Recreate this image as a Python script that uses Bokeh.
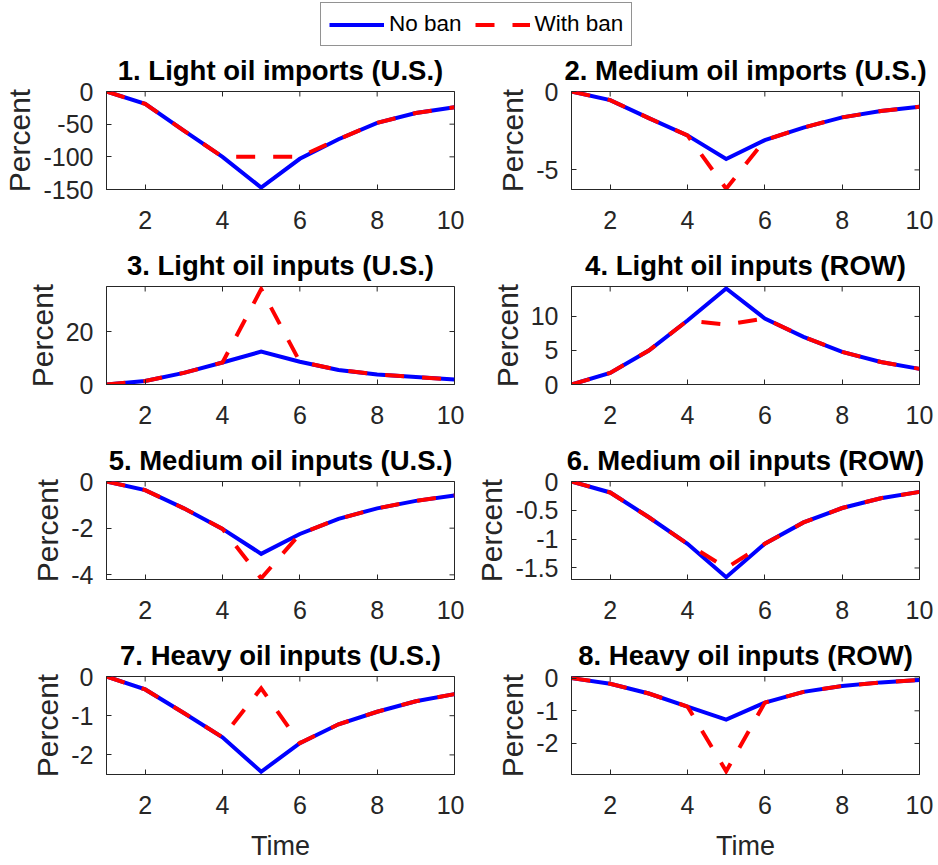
import math
from bokeh.plotting import figure
from bokeh.layouts import column, row
from bokeh.models import (Range1d, FixedTicker, PrintfTickFormatter,
                          Legend, LegendItem)
from bokeh.embed import file_html
from bokeh.resources import INLINE

# ---------------- data ----------------
time = [1, 2, 3, 4, 5, 6, 7, 8, 9, 10]
x_ticks = [2, 4, 6, 8, 10]

titles = [
    "1. Light oil imports (U.S.)",
    "2. Medium oil imports (U.S.)",
    "3. Light oil inputs (U.S.)",
    "4. Light oil inputs (ROW)",
    "5. Medium oil inputs (U.S.)",
    "6. Medium oil inputs (ROW)",
    "7. Heavy oil inputs (U.S.)",
    "8. Heavy oil inputs (ROW)",
]

no_ban_1 = [0, -19, -60, -100, -147, -103, -73, -48, -33, -24]
with_ban_1 = [0, -19, -60, -100, -100, -100, -73, -48, -33, -24]
no_ban_2 = [0, -0.55, -1.7, -2.8, -4.3, -3.1, -2.3, -1.65, -1.25, -0.97]
with_ban_2 = [0, -0.55, -1.7, -2.8, -6.2, -3.1, -2.3, -1.65, -1.25, -0.97]
no_ban_3 = [0, 1.3, 4.4, 8.3, 12.4, 8.6, 5.5, 3.8, 2.8, 1.9]
with_ban_3 = [0, 1.3, 4.4, 8.3, 36.0, 8.6, 5.5, 3.8, 2.8, 1.9]
no_ban_4 = [0, 1.7, 5.0, 9.4, 14.1, 9.7, 7.0, 4.8, 3.3, 2.3]
with_ban_4 = [0, 1.7, 5.0, 9.4, 8.8, 9.7, 7.0, 4.8, 3.3, 2.3]
no_ban_5 = [0, -0.37, -1.15, -2.03, -3.1, -2.25, -1.6, -1.15, -0.83, -0.6]
with_ban_5 = [0, -0.37, -1.15, -2.03, -4.15, -2.25, -1.6, -1.15, -0.83, -0.6]
no_ban_6 = [0, -0.19, -0.62, -1.08, -1.66, -1.08, -0.71, -0.46, -0.29, -0.18]
with_ban_6 = [0, -0.19, -0.62, -1.08, -1.5, -1.08, -0.71, -0.46, -0.29, -0.18]
no_ban_7 = [0, -0.33, -0.93, -1.55, -2.43, -1.7, -1.22, -0.9, -0.63, -0.45]
with_ban_7 = [0, -0.33, -0.93, -1.55, -0.3, -1.7, -1.22, -0.9, -0.63, -0.45]
no_ban_8 = [0, -0.17, -0.47, -0.87, -1.27, -0.75, -0.42, -0.24, -0.13, -0.06]
with_ban_8 = [0, -0.17, -0.47, -0.87, -2.85, -0.75, -0.42, -0.24, -0.13, -0.06]

y_limits = [(-150, 0), (-6.25, 0), (0, 37), (0, 14.4),
            (-4.2, 0), (-1.7, 0), (-2.5, 0), (-2.95, 0.05)]
y_ticks = [[-150, -100, -50, 0], [-5, 0], [0, 20], [0, 5, 10],
           [-4, -2, 0], [-1.5, -1, -0.5, 0], [-2, -1, 0], [-2, -1, 0]]

no_ban = [no_ban_1, no_ban_2, no_ban_3, no_ban_4, no_ban_5, no_ban_6, no_ban_7, no_ban_8]
with_ban = [with_ban_1, with_ban_2, with_ban_3, with_ban_4, with_ban_5, with_ban_6, with_ban_7, with_ban_8]

legend_labels = ["No ban", "With ban"]

# ---------------- style ----------------
FONT = "Liberation Sans"
AX = "#262626"
BLUE = "#0000FF"
RED = "#FF0000"
DASH = "19 18"
LW = 4


def style_axis(ax):
    ax.axis_line_color = AX
    ax.axis_line_width = 1
    ax.major_tick_line_color = AX
    ax.major_tick_in = 5
    ax.major_tick_out = 0
    ax.minor_tick_line_color = None
    ax.major_label_text_font = FONT
    ax.major_label_text_color = AX
    ax.axis_label_text_font = FONT
    ax.axis_label_text_color = AX
    ax.axis_label_text_font_style = "normal"


def make_panel(i, left, bottom_row):
    mb_left = 106 if left else 107
    mb_right = 10 if left else 18
    fw = 348
    mb_top = 44
    mb_bottom = 90 if bottom_row else 53
    fh = 98
    lo, hi = y_limits[i]
    p = figure(width=mb_left + fw + mb_right, height=mb_top + fh + mb_bottom,
               output_backend="svg", toolbar_location=None,
               x_range=Range1d(1, 10), y_range=Range1d(lo, hi),
               min_border_left=mb_left, min_border_right=mb_right,
               min_border_top=mb_top, min_border_bottom=mb_bottom,
               title=titles[i])
    p.title.text_font = FONT
    p.title.text_font_size = "27.5px"
    p.title.text_font_style = "bold"
    p.title.text_color = "black"
    p.title.align = "center"
    p.title.standoff = 11
    p.grid.visible = False
    p.outline_line_color = AX
    p.outline_line_width = 1
    p.background_fill_color = "white"
    p.border_fill_color = "white"

    fmt = PrintfTickFormatter(format="%g")

    xa = p.xaxis[0]
    xa.ticker = FixedTicker(ticks=x_ticks)
    xa.formatter = fmt
    style_axis(xa)
    xa.major_label_text_font_size = "25px"
    xa.major_label_standoff = 21
    if bottom_row:
        xa.axis_label = "Time"
        xa.axis_label_text_font_size = "27px"
        xa.axis_label_standoff = 14

    ya = p.yaxis[0]
    ya.ticker = FixedTicker(ticks=y_ticks[i])
    ya.formatter = fmt
    style_axis(ya)
    ya.major_label_text_font_size = "25px"
    ya.major_label_standoff = 13
    ya.axis_label = "Percent"
    ya.axis_label_text_font_size = "30px"
    ya.axis_label_standoff = 4

    # mirrored inward tick marks on the top and right edges (clipped to frame)
    p.scatter(x=x_ticks, y=[hi] * len(x_ticks), marker="dash", size=10,
              angle=math.pi / 2, line_color=AX, line_width=1)
    p.scatter(x=[10] * len(y_ticks[i]), y=y_ticks[i], marker="dash", size=10,
              line_color=AX, line_width=1)

    p.line(time, no_ban[i], line_color=BLUE, line_width=LW, line_join="miter")
    p.line(time, with_ban[i], line_color=RED, line_width=LW, line_dash=DASH,
           line_join="miter")
    return p


# legend strip
lf = figure(width=937, height=47, output_backend="svg", toolbar_location=None,
            x_range=Range1d(0, 1), y_range=Range1d(0, 1),
            x_axis_type=None, y_axis_type=None, min_border=0)
lf.grid.visible = False
lf.outline_line_color = None
r1 = lf.line([-2, -1], [-1, -1], line_color=BLUE, line_width=LW)
r2 = lf.line([-2, -1], [-1, -1], line_color=RED, line_width=LW, line_dash=DASH)
legend = Legend(items=[LegendItem(label=legend_labels[0], renderers=[r1]),
                       LegendItem(label=legend_labels[1], renderers=[r2])],
                location=(320, 1), orientation="horizontal", margin=0,
                padding=8, spacing=13, glyph_width=55, glyph_height=25,
                label_height=25, label_standoff=5,
                label_text_font=FONT, label_text_font_size="22.5px",
                label_text_color="black",
                border_line_color=AX, border_line_width=1,
                background_fill_color="white", background_fill_alpha=1.0)
lf.add_layout(legend)

rows = []
for r in range(4):
    a = make_panel(2 * r, True, r == 3)
    b = make_panel(2 * r + 1, False, r == 3)
    rows.append(row(a, b))

layout = column(lf, *rows)

open("out.html", "w").write(file_html(layout, INLINE))
